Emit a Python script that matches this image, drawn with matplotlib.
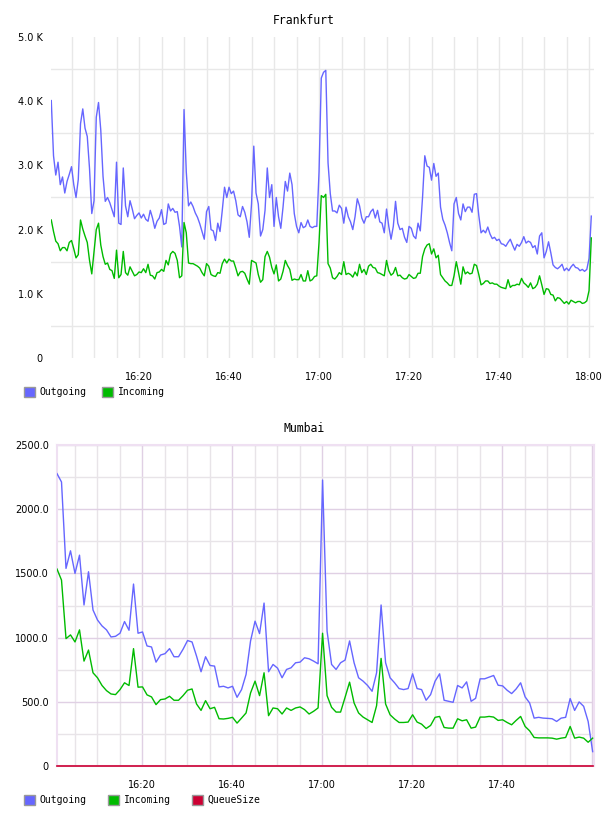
import numpy as np
import matplotlib
matplotlib.use("Agg")
import matplotlib.pyplot as plt
from matplotlib.patches import Patch
from matplotlib.ticker import MultipleLocator, FuncFormatter

# ---------------- data ----------------
# Frankfurt: one sample every 30 s starting 16:00:30 (values in thousands)
fra_start_min = 0.5          # minutes after 16:00
fra_step_min = 0.5
fra_outgoing_k = [
    4.01, 3.15, 2.85, 3.05, 2.70, 2.82, 2.57, 2.75, 2.86, 2.98,
    2.70, 2.50, 2.78, 3.65, 3.88, 3.58, 3.45, 2.95, 2.25, 2.45,
    3.75, 3.98, 3.55, 2.83, 2.44, 2.50, 2.42, 2.31, 2.20, 3.05,
    2.10, 2.08, 2.96, 2.37, 2.20, 2.45, 2.32, 2.17, 2.22, 2.26,
    2.18, 2.24, 2.16, 2.13, 2.30, 2.18, 2.02, 2.13, 2.18, 2.31,
    2.08, 2.10, 2.40, 2.29, 2.33, 2.27, 2.28, 2.05, 1.73, 3.87,
    2.90, 2.37, 2.43, 2.36, 2.26, 2.19, 2.09, 1.97, 1.85, 2.28,
    2.36, 2.00, 1.98, 1.83, 2.10, 1.97, 2.30, 2.66, 2.50, 2.66,
    2.56, 2.60, 2.45, 2.23, 2.20, 2.36, 2.27, 2.12, 1.88, 2.40,
    3.30, 2.57, 2.40, 1.90, 2.00, 2.30, 2.96, 2.50, 2.70, 2.05,
    2.50, 2.20, 2.02, 2.35, 2.75, 2.60, 2.88, 2.70, 2.25, 2.05,
    1.95, 2.11, 2.03, 2.05, 2.15, 2.05, 2.03, 2.05, 2.05, 2.90,
    4.36, 4.45, 4.48,
    3.04, 2.56, 2.29, 2.29, 2.26, 2.38, 2.33, 2.10, 2.35, 2.20,
    2.12, 2.00, 2.20, 2.48, 2.37, 2.18, 2.10, 2.20, 2.20, 2.28,
    2.32, 2.18, 2.30, 2.12, 2.10, 1.95, 2.32, 2.05, 1.85, 2.05,
    2.44, 2.10, 2.00, 2.02, 1.88, 1.80, 2.05, 2.02, 1.90, 1.86,
    2.10, 1.98, 2.50, 3.15, 2.99, 2.97, 2.77, 3.03, 2.83, 2.88,
    2.35, 2.16, 2.07, 1.95, 1.80, 1.67, 2.40, 2.50, 2.25, 2.15,
    2.40,
    2.28, 2.35, 2.35, 2.27, 2.55, 2.56, 2.22, 1.95, 1.99, 1.95,
    2.04, 1.93, 1.86, 1.88, 1.83, 1.85, 1.78, 1.77, 1.74, 1.80,
    1.85, 1.76, 1.68, 1.77, 1.74, 1.80, 1.89, 1.79, 1.82, 1.80,
    1.72, 1.75, 1.62, 1.90, 1.95, 1.56, 1.66, 1.81, 1.64, 1.45,
    1.41, 1.39, 1.42, 1.46, 1.36, 1.40, 1.36, 1.42, 1.46, 1.41,
    1.40, 1.36, 1.38, 1.35, 1.38, 1.55, 2.21,
]
fra_incoming_k = [
    2.15, 1.97, 1.82, 1.78, 1.67, 1.72, 1.72, 1.67, 1.80, 1.83,
    1.70, 1.56, 1.61, 2.15, 2.01, 1.90, 1.80, 1.52, 1.31, 1.65,
    2.00, 2.10, 1.76, 1.58, 1.46, 1.48, 1.38, 1.36, 1.24, 1.68,
    1.25, 1.30, 1.66, 1.33, 1.29, 1.42, 1.35, 1.28, 1.30, 1.34,
    1.33, 1.39, 1.33, 1.46, 1.29, 1.28, 1.23, 1.33, 1.34, 1.38,
    1.35, 1.52, 1.45, 1.62, 1.66, 1.63, 1.52, 1.25, 1.28, 2.11,
    1.95, 1.48, 1.47, 1.47, 1.45, 1.43, 1.40, 1.33, 1.28, 1.47,
    1.43, 1.30, 1.28, 1.27, 1.33, 1.32, 1.47, 1.54, 1.48, 1.54,
    1.51, 1.51, 1.40, 1.28, 1.34, 1.35, 1.32, 1.23, 1.15, 1.52,
    1.50, 1.48, 1.30, 1.18, 1.22, 1.58, 1.66, 1.57, 1.41, 1.31,
    1.45, 1.20, 1.23, 1.35, 1.52, 1.44, 1.38, 1.21, 1.23, 1.22,
    1.22, 1.30, 1.20, 1.20, 1.36, 1.20, 1.22, 1.27, 1.28, 1.80,
    2.53, 2.50, 2.55,
    1.47, 1.40, 1.25, 1.23, 1.27, 1.33, 1.30, 1.50, 1.30, 1.32,
    1.30, 1.26, 1.34, 1.28, 1.46, 1.33, 1.38, 1.30, 1.43, 1.46,
    1.41, 1.40, 1.33, 1.32, 1.30, 1.28, 1.52, 1.36, 1.29, 1.32,
    1.41, 1.28, 1.29, 1.25, 1.23, 1.24, 1.30, 1.27, 1.24, 1.25,
    1.32, 1.32, 1.58, 1.70, 1.76, 1.78, 1.62, 1.70, 1.56, 1.60,
    1.30, 1.25, 1.20, 1.17, 1.13, 1.13, 1.28, 1.50, 1.33, 1.15,
    1.42,
    1.31, 1.34, 1.31, 1.32, 1.46, 1.44, 1.30, 1.14, 1.16, 1.20,
    1.20, 1.16, 1.17, 1.15, 1.15, 1.12, 1.10, 1.09, 1.08, 1.22,
    1.10, 1.13, 1.13, 1.15, 1.14, 1.24, 1.17, 1.14, 1.10, 1.17,
    1.08, 1.10, 1.15, 1.28, 1.14, 0.99, 1.08, 1.07, 0.99, 0.98,
    0.89, 0.94, 0.93, 0.89, 0.85, 0.88, 0.84, 0.90, 0.88, 0.86,
    0.88, 0.88, 0.85, 0.86, 0.89, 1.05, 1.87,
]

# Mumbai: one sample per minute
mum_start_min = 1.1
mum_step_min = 1.0
mum_outgoing = [
    2277, 2212, 1539, 1676, 1500, 1642, 1254, 1513, 1215, 1137,
    1091, 1060, 1005, 1010, 1034, 1125, 1057, 1417, 1034, 1044,
    935, 927, 809, 864, 875, 914, 851, 851, 909, 977,
    966, 856, 734, 851, 783, 778, 616, 621, 608, 621,
    535, 595, 713, 974, 1128, 1031, 1269, 734, 791, 762,
    687, 752, 765, 804, 809, 843, 835, 817, 796, 2227,
    1050, 791, 752, 804, 825, 974, 804, 687, 661, 627,
    582, 726, 1254, 804, 687, 648, 603, 595, 603, 718,
    603, 595, 512, 556, 661, 718, 512, 504, 496, 627,
    608, 655, 504, 527, 679, 679, 692, 705, 629, 624,
    590, 564, 600, 648, 538, 491, 373, 379, 373, 371,
    368, 347, 373, 379, 525, 433, 499, 465, 347, 112,
]
mum_incoming = [
    1534, 1448, 992, 1021, 966, 1060, 817, 903, 726, 687,
    627, 587, 561, 556, 595, 648, 627, 914, 614, 616,
    554, 538, 478, 517, 522, 543, 512, 512, 548, 590,
    600, 483, 433, 509, 446, 457, 368, 366, 371, 379,
    334, 373, 413, 569, 661, 548, 726, 392, 452, 446,
    405, 452, 433, 452, 460, 439, 405, 426, 452, 1034,
    548, 457, 420, 420, 535, 653, 491, 413, 381, 360,
    339, 470, 838, 483, 399, 366, 339, 339, 342, 399,
    342, 326, 292, 316, 379, 386, 300, 295, 295, 368,
    352, 360, 295, 303, 381, 381, 386, 381, 355, 360,
    339, 321, 355, 386, 308, 274, 222, 219, 219, 219,
    217, 209, 217, 222, 308, 217, 225, 217, 185, 217,
]
mum_queue = [0] * len(mum_outgoing)

# ---------------- style ----------------
C_OUT = "#6666ff"
C_IN = "#00bb00"
C_Q = "#cc0033"
W, H = 608, 816
MONO = "DejaVu Sans Mono"


def hhmm(m, pos=None):
    m = int(round(m))
    return f"{16 + m // 60}:{m % 60:02d}"


fig = plt.figure(figsize=(W / 100, H / 100), dpi=100)
fig.patch.set_facecolor("white")


def fr(x0, y_top, x1, y_bot):
    return [x0 / W, 1 - y_bot / H, (x1 - x0) / W, (y_bot - y_top) / H]


def legend(handles, y, spacing):
    fig.legend(handles=handles, ncol=len(handles), frameon=False,
               prop={"family": MONO, "size": 7},
               handlelength=1.15, handleheight=1.15, handletextpad=0.45,
               columnspacing=spacing, borderpad=0, borderaxespad=0,
               loc="center left", bbox_to_anchor=(24 / W, 1 - y / H))


# ---------------- Frankfurt ----------------
ax1 = fig.add_axes(fr(51, 37, 594, 358))
t1 = fra_start_min + fra_step_min * np.arange(len(fra_outgoing_k))
ax1.plot(t1, np.array(fra_outgoing_k) * 1000, color=C_OUT, lw=1.0, zorder=3)
ax1.plot(t1, np.array(fra_incoming_k) * 1000, color=C_IN, lw=1.0, zorder=3)
ax1.set_xlim(0.44, 121.1)
ax1.set_ylim(0, 5000)
for s in ax1.spines.values():
    s.set_visible(False)
ax1.xaxis.set_major_locator(MultipleLocator(20))
ax1.xaxis.set_minor_locator(MultipleLocator(5))
ax1.xaxis.set_major_formatter(FuncFormatter(hhmm))
ax1.yaxis.set_major_locator(MultipleLocator(1000))
ax1.yaxis.set_minor_locator(MultipleLocator(500))
ax1.yaxis.set_major_formatter(
    FuncFormatter(lambda v, p: "0" if v == 0 else f"{v / 1000:.1f} K"))
ax1.tick_params(which="both", length=0)
ax1.tick_params(axis="x", pad=10, labelsize=7)
ax1.tick_params(axis="y", pad=6, labelsize=7)
ax1.grid(True, axis="x", which="both", color="#e8e8e8", lw=1.0, zorder=0)
ax1.grid(True, axis="y", which="minor", color="#e8e8e8", lw=1.0, zorder=0)
ax1.grid(False, axis="y", which="major")
ax1.set_axisbelow(True)
fig.text(304 / W, 1 - 20 / H, "Frankfurt", ha="center", va="center",
         family=MONO, fontsize=8.3)

legend([Patch(facecolor=C_OUT, edgecolor="#999999", lw=1, label="Outgoing"),
        Patch(facecolor=C_IN, edgecolor="#999999", lw=1, label="Incoming")],
       392, 1.6)

# ---------------- Mumbai ----------------
ax2 = fig.add_axes(fr(57, 445, 594, 766))
t2 = mum_start_min + mum_step_min * np.arange(len(mum_outgoing))
ax2.plot(t2, mum_outgoing, color=C_OUT, lw=1.0, zorder=3)
ax2.plot(t2, mum_incoming, color=C_IN, lw=1.0, zorder=3)
ax2.plot(t2, mum_queue, color=C_Q, lw=1.2, zorder=4, clip_on=False)
ax2.set_xlim(1.1, 120.4)
ax2.set_ylim(0, 2500)
ax2.xaxis.set_major_locator(MultipleLocator(20))
ax2.xaxis.set_minor_locator(MultipleLocator(5))
ax2.xaxis.set_major_formatter(
    FuncFormatter(lambda m, p: hhmm(m) if m < 110 else ""))
ax2.yaxis.set_major_locator(MultipleLocator(500))
ax2.yaxis.set_minor_locator(MultipleLocator(250))
ax2.yaxis.set_major_formatter(
    FuncFormatter(lambda v, p: "0" if v == 0 else f"{v:.1f}"))
ax2.tick_params(which="both", length=0)
ax2.tick_params(axis="x", pad=10, labelsize=7)
ax2.tick_params(axis="y", pad=6, labelsize=7)
ax2.grid(True, which="minor", color="#e8e4e8", lw=1.0, zorder=0)
ax2.grid(True, which="major", color="#e0d0e4", lw=1.0, zorder=0)
ax2.set_axisbelow(True)
for side, s in ax2.spines.items():
    s.set_color("#efe0f2")
    s.set_linewidth(1.5)
fig.text(304 / W, 1 - 429 / H, "Mumbai", ha="center", va="center",
         family=MONO, fontsize=8.3)

legend([Patch(facecolor=C_OUT, edgecolor="#999999", lw=1, label="Outgoing"),
        Patch(facecolor=C_IN, edgecolor="#999999", lw=1, label="Incoming"),
        Patch(facecolor=C_Q, edgecolor="#999999", lw=1, label="QueueSize")],
       800, 2.2)

fig.savefig("out.png", dpi=100, facecolor="white")
